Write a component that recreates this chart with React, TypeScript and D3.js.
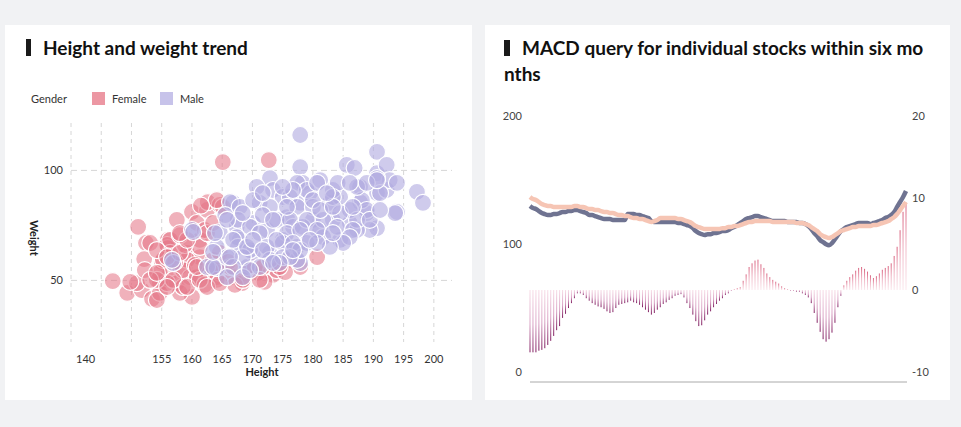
import * as d3 from 'd3';

// ---- scatter data: [height, weight] ----
const femalePoints: [number, number][] = [
  [146.9, 49.7], [149.3, 44.3], [151.1, 74.3], [152.4, 67], [152.1, 59.7], [151.7, 45.6],
  [153.4, 41.6], [150.9, 48.8], [155, 58.4], [156, 68.4], [157.5, 77.5], [156, 64.7],
  [154.7, 48.8], [154.7, 44.3], [156.4, 53.4], [157.5, 48.8], [158, 56.1], [159.2, 62.5],
  [160, 81.1], [160, 42.5], [160.8, 76.1], [161.3, 68.4], [161.3, 60.6], [159.7, 51.5],
  [162.5, 82], [162.5, 53.4], [162.6, 85.6], [163.5, 59.3], [164.6, 84.3], [165.1, 103.8],
  [172.7, 104.7], [164.1, 51.5], [164.6, 53.4], [166.8, 51.5], [168.3, 48.8], [169.3, 54.7],
  [170.9, 53.4], [173.4, 52.5], [174, 54.7], [176.2, 59.3], [180.7, 60.6], [177.9, 56.1],
  [155.9, 66.1], [156.4, 62.5], [154.7, 53.4], [155.9, 48.8], [158, 44.3], [159.2, 59.3],
  [158.5, 54.7], [160.8, 51.5], [164.1, 54.7], [164.6, 62.5], [165.1, 83.4], [164.1, 86.5],
  [153.1, 67], [156.4, 68.4], [155.2, 59.3], [154.2, 50.2], [158.5, 47], [161.3, 65.2],
  [163, 54.7], [164.1, 50.2], [154.2, 41.1], [157.2, 58.4], [158.8, 66.1], [160.5, 57],
  [162.1, 48], [166, 58.4], [167.1, 48], [162.1, 72.9], [158, 70.6], [172, 49.3],
  [170.4, 56.1], [152.2, 54.7], [149.8, 49.3], [161.5, 84], [175.4, 53.8], [171.7, 56],
  [154.2, 63.8], [155.9, 60.6], [158, 62.5], [159.2, 68.4], [158, 71.5], [162.5, 71.5],
  [156.9, 50.2], [159.2, 47], [161.3, 50.2], [162.5, 47], [164.6, 48.8], [166.3, 56.1],
  [153.1, 50.2], [154.2, 53.4], [163.5, 76.1], [160.8, 56.1], [155.9, 47], [168.4, 50.2],
  [171.2, 50.2], [174.5, 56.1],
];

const malePoints: [number, number][] = [
  [177.9, 116.1], [190.6, 108.4], [190.6, 98.8], [192.2, 102.5], [185.6, 102.5], [186.9, 101.1],
  [197.2, 90.2], [198.2, 85.2], [193.9, 81.1], [190.6, 73.8], [177.9, 101.5], [172.9, 96.5],
  [170.7, 92.5], [166.8, 85.2], [164.6, 72], [164.1, 65.2], [162.5, 56.1], [164.1, 55.6],
  [156.9, 57.9], [160, 72.9], [167.4, 74.3], [167.9, 68.4], [169.1, 56.1], [170.1, 62.5],
  [170.1, 76.1], [171.2, 85.2], [172.4, 72.9], [172.9, 62.5], [173.4, 91.1], [175, 87.9],
  [175.7, 78.8], [175, 68.4], [176.7, 74.3], [177.9, 85.2], [177.9, 57.9], [178.3, 94.3],
  [179.5, 89.7], [180, 77.5], [181.2, 72.9], [181.7, 69.7], [182.8, 85.2], [183.3, 77.5],
  [184.5, 87.9], [184.5, 68.4], [186.1, 76.1], [187.8, 85.6], [187.8, 92.5], [188.9, 80.6],
  [190.6, 89.7], [192.2, 91.1], [192.7, 95.6], [189.4, 72.9], [187.3, 72.9], [181.2, 95.6],
  [183.3, 91.1], [177.4, 94.3], [166.3, 85.6], [167.9, 83.4], [170.1, 86.5], [172.9, 83.4],
  [176.2, 87.9], [177.4, 83.4], [179, 91.1], [163.8, 71.5], [167.6, 77.5], [167.4, 69.7],
  [169.6, 74.3], [171.2, 71.5], [174, 77.5], [176.2, 77.5], [175.7, 71.5], [178.3, 74.3],
  [167.6, 65.2], [169.6, 63.8], [172.4, 65.2], [175, 67], [177.4, 65.2], [165.8, 60.6],
  [168.4, 60.6], [172.9, 59.3], [175, 60.6], [177.4, 59.3], [163.5, 56.1], [166.8, 56.1],
  [171.2, 56.1], [156.7, 59.3], [165.8, 51.5], [168.4, 51.5], [169.6, 54.7], [190.6, 96.5],
  [188.1, 86.5], [191.1, 89.7], [184.1, 94.3], [187.3, 92.5], [183.3, 87.9], [186.1, 82],
  [188.9, 82], [184.5, 80.6], [180, 83.4], [181.7, 77.5], [179, 77.5], [187.3, 77.5],
  [189.4, 77.5], [184, 74.3], [186.6, 72.9], [177.9, 72.9], [180.7, 72.9], [179, 67],
  [186.1, 69.7], [176.7, 67], [177.9, 63.8], [185, 67], [182.8, 65.2], [180.7, 67],
  [176.2, 60.6], [193.6, 80.6], [171.7, 79.7], [165.5, 79.7], [174.5, 57.9], [163.5, 63],
  [160.2, 72], [165.8, 77.5], [166.8, 68.4], [166.3, 60.6], [169.1, 65.2], [170.1, 68.4],
  [171.7, 63.8], [174, 68.4], [173.4, 77.5], [175.7, 83.4], [176.7, 91.1], [180, 86.5],
  [181.2, 82], [183.3, 83.4], [186.1, 94.3], [188.9, 94.3], [186.6, 83.4], [191.1, 82],
  [190.6, 95.6], [183.3, 71.5], [179.5, 68.4], [176.7, 63.8], [173.4, 57.9], [168.4, 80.6],
  [171.7, 89.7], [175, 92.5], [180.7, 94.3], [182.3, 89.7], [193.9, 94.3],
];

const heightGrid = [140, 145, 150, 155, 160, 165, 170, 175, 180, 185, 190, 195, 200];
const heightLabels = [140, 155, 160, 165, 170, 175, 180, 185, 190, 195, 200];
const weightTicks = [50, 100];

// ---- MACD data: one value per trading day ----
const closeLine = [
  129.7, 128.1, 127.3, 125.7, 124.2, 123.4, 122.6, 122.6, 123.4, 123.4, 124.2, 125.0, 125.0, 125.7, 125.7, 126.5,
  126.5, 125.7, 125.0, 124.2, 122.6, 122.6, 121.8, 121.0, 120.3, 119.5, 119.5, 119.5, 118.7, 118.7, 118.7, 118.7,
  118.7, 123.4, 123.4, 123.4, 122.6, 122.6, 121.8, 121.0, 120.3, 117.9, 117.1, 117.1, 117.1, 117.1, 117.1, 117.1,
  117.1, 117.1, 116.4, 116.4, 115.6, 114.8, 114.0, 112.4, 110.1, 108.5, 107.7, 107.0, 107.7, 107.7, 108.5, 108.5,
  109.3, 110.1, 110.1, 110.9, 112.4, 113.2, 114.8, 116.4, 117.9, 119.5, 120.3, 121.0, 121.8, 121.8, 121.0, 120.3,
  119.5, 118.7, 117.9, 117.9, 117.9, 117.9, 117.9, 117.1, 117.1, 117.1, 117.1, 116.4, 116.4, 115.6, 114.0, 111.7,
  108.5, 106.2, 103.0, 101.5, 99.9, 99.1, 100.7, 103.8, 107.0, 110.1, 111.7, 113.2, 114.0, 114.8, 115.6, 116.4,
  116.4, 116.4, 116.4, 115.6, 116.4, 117.1, 117.9, 118.7, 120.3, 121.0, 122.6, 125.0, 128.9, 132.8, 136.7, 141.4,
];

const avgLine = [
  136.7, 135.1, 134.4, 132.8, 131.2, 130.4, 129.7, 129.7, 128.9, 128.9, 128.9, 128.9, 128.9, 128.9, 128.9, 129.7,
  129.7, 128.9, 128.9, 128.1, 127.3, 127.3, 126.5, 126.5, 125.7, 125.0, 125.0, 124.2, 124.2, 123.4, 122.6, 122.6,
  121.8, 121.8, 121.0, 120.3, 120.3, 119.5, 119.5, 118.7, 117.9, 117.1, 117.9, 118.7, 120.3, 120.3, 120.3, 120.3,
  120.3, 120.3, 119.5, 119.5, 118.7, 117.9, 117.1, 115.6, 114.0, 113.2, 112.4, 111.7, 111.7, 111.7, 111.7, 111.7,
  111.7, 112.4, 112.4, 113.2, 113.2, 114.0, 114.0, 114.8, 115.6, 116.4, 117.1, 117.1, 117.9, 117.9, 117.9, 117.9,
  117.9, 117.9, 117.1, 117.1, 117.1, 117.1, 117.1, 117.1, 117.1, 117.1, 116.4, 116.4, 116.4, 115.6, 114.8, 113.2,
  111.7, 110.1, 107.7, 106.2, 105.4, 104.6, 105.4, 107.0, 108.5, 110.1, 110.9, 111.7, 112.4, 113.2, 113.2, 114.0,
  114.0, 114.0, 114.0, 114.0, 114.8, 114.8, 115.6, 116.4, 117.1, 117.9, 119.5, 121.0, 123.4, 126.5, 129.7, 132.8,
];

const macdBars = [
  -7.6, -7.6, -7.6, -7.4, -7.3, -7.1, -6.7, -6.2, -5.6, -4.9, -4.4, -3.4, -2.9, -2.2, -1.6, -1.0,
  -0.4, -0.4, -0.6, -1.0, -1.3, -1.6, -1.8, -2.0, -2.1, -2.3, -2.6, -2.8, -2.7, -2.2, -1.8, -1.7,
  -1.6, -1.5, -1.3, -1.5, -1.6, -1.8, -2.1, -2.4, -2.7, -3.0, -2.8, -2.4, -2.1, -1.7, -1.5, -1.2,
  -1.0, -0.7, -0.6, -0.5, -0.9, -1.6, -2.2, -3.0, -3.8, -4.4, -4.3, -3.7, -3.0, -2.6, -2.1, -1.7,
  -1.3, -1.0, -0.6, -0.4, -0.1, 0.1, 0.2, 0.3, 1.0, 1.7, 2.5, 2.9, 3.2, 3.3, 2.8, 2.4,
  1.8, 1.4, 1.1, 0.9, 0.7, 0.4, 0.2, 0.05, -0.1, -0.1, -0.2, -0.2, -0.4, -0.6, -0.9, -1.6,
  -2.8, -4.0, -5.1, -6.0, -6.3, -6.0, -5.2, -4.0, -2.1, -0.7, 0.5, 1.0, 1.4, 1.7, 2.1, 2.4,
  2.5, 2.3, 2.0, 1.6, 1.3, 1.5, 1.8, 2.2, 2.4, 2.6, 2.9, 3.7, 4.7, 6.5, 8.5, 9.5,
];

const priceTicks = [0, 100, 200];
const macdTicks = [-10, 0, 10, 20];

const FONT = "Lato, 'Noto Sans', sans-serif";

const ScatterPanel = () => {
  const x = d3.scaleLinear().domain([140, 203]).range([71, 452]);
  const y = d3.scaleLinear().domain([22, 122]).range([342, 122]);
  const dots = (pts: [number, number][], fill: string, op: number) =>
    pts.map((d, i) => (
      <circle key={i} cx={x(d[0])} cy={y(d[1])} r={8.5} fill={fill} fillOpacity={op}
        stroke="#fff" strokeWidth={1.2} />
    ));
  return (
    <g fontFamily={FONT}>
      <rect x={5} y={25} width={467} height={375} fill="#fff" />
      <rect x={26} y={39} width={5} height={17} fill="#1a1a1a" />
      <text x={43} y={55} fontSize={19} fontWeight={700} fill="#111">Height and weight trend</text>
      <text x={31} y={103} fontSize={11} fill="#333">Gender</text>
      <rect x={92} y={92} width={13} height={13} fill="#ec97a3" />
      <text x={112} y={103} fontSize={11} fill="#333">Female</text>
      <rect x={160} y={92} width={13} height={13} fill="#c7c3ea" />
      <text x={180} y={103} fontSize={11} fill="#333">Male</text>
      {heightGrid.map((t) => (
        <line key={t} x1={x(t)} x2={x(t)} y1={123} y2={342} stroke="#d6d6d6" strokeDasharray="4,4" />
      ))}
      {weightTicks.map((t) => (
        <g key={t}>
          <line x1={71} x2={452} y1={y(t)} y2={y(t)} stroke="#d6d6d6" strokeDasharray="6,4" />
          <text x={63} y={y(t) + 4} fontSize={11} fill="#333" textAnchor="end">{t}</text>
        </g>
      ))}
      {heightLabels.map((t, i) => (
        <text key={t} x={i === 0 ? x(t) + 5 : x(t)} y={363} fontSize={11} fill="#333"
          textAnchor={i === 0 ? 'start' : 'middle'}>{t}</text>
      ))}
      <text x={262} y={376} fontSize={11} fontWeight={700} fill="#222" textAnchor="middle">Height</text>
      <text transform="translate(30,238) rotate(90)" fontSize={11} fontWeight={700} fill="#222"
        textAnchor="middle">Weight</text>
      {dots(femalePoints, '#e5788a', 0.58)}
      {dots(malePoints, '#b1abe0', 0.62)}
    </g>
  );
};

const MacdPanel = () => {
  const idx = d3.range(macdBars.length);
  const x = d3.scaleLinear().domain([0, macdBars.length - 1]).range([530, 906]);
  const yPrice = d3.scaleLinear().domain([0, 200]).range([372, 116]);
  const yMacd = d3.scaleLinear().domain([-10, 0, 10, 20]).range([372, 290, 198, 116]);
  const line = d3.line<number>().x((_, i) => x(i)).y((d) => yPrice(d)).curve(d3.curveMonotoneX);
  return (
    <g fontFamily={FONT}>
      <defs>
        <linearGradient id="negGrad" x1="0" y1="0" x2="0" y2="1">
          <stop offset="0" stopColor="#f8dde7" />
          <stop offset="0.55" stopColor="#d9a2c4" />
          <stop offset="1" stopColor="#7f1a5e" />
        </linearGradient>
        <linearGradient id="posGrad" x1="0" y1="0" x2="0" y2="1">
          <stop offset="0" stopColor="#d9627f" />
          <stop offset="0.5" stopColor="#efb6c5" />
          <stop offset="1" stopColor="#fbe9ee" />
        </linearGradient>
      </defs>
      <rect x={485} y={25} width={465} height={375} fill="#fff" />
      <rect x={504} y={40} width={6} height={16} fill="#1a1a1a" />
      <text x={522} y={55} fontSize={19} fontWeight={700} fill="#111">MACD query for individual stocks within six mo</text>
      <text x={504} y={81} fontSize={19} fontWeight={700} fill="#111">nths</text>
      {priceTicks.map((t) => (
        <text key={t} x={522} y={yPrice(t) + 4} fontSize={11} fill="#444" textAnchor="end">{t}</text>
      ))}
      {macdTicks.map((t) => (
        <text key={t} x={912} y={yMacd(t) + 4} fontSize={11} fill="#444">{t}</text>
      ))}
      {idx.map((i) => {
        const v = macdBars[i];
        const y0 = yMacd(0);
        const y1 = yMacd(v);
        return (
          <rect key={i} x={x(i) - 0.5} width={1} y={Math.min(y0, y1)}
            height={Math.max(0.5, Math.abs(y1 - y0))} fill={v < 0 ? 'url(#negGrad)' : 'url(#posGrad)'} />
        );
      })}
      <path d={line(closeLine) || ''} fill="none" stroke="#6f7391" strokeWidth={4.5} strokeLinejoin="round" />
      <path d={line(avgLine) || ''} fill="none" stroke="#f6c5b4" strokeWidth={4.5} strokeLinejoin="round" />
      <line x1={530} x2={907} y1={382} y2={382} stroke="#aaa" strokeWidth={1} />
    </g>
  );
};

export default function App() {
  return (
    <svg width={961} height={427} style={{ position: 'absolute', left: 0, top: 0 }}>
      <rect width={961} height={427} fill="#f1f2f4" />
      <ScatterPanel />
      <MacdPanel />
    </svg>
  );
}
